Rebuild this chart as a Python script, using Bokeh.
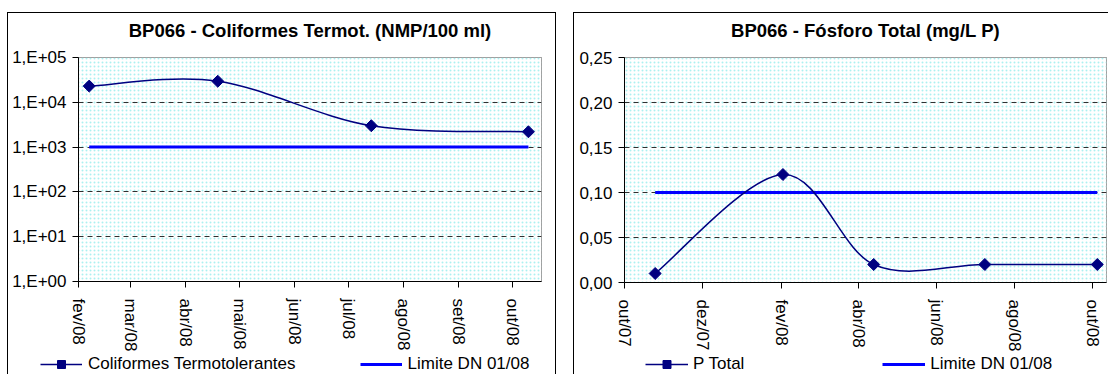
import numpy as np
import pandas as pd
from bokeh.plotting import figure
from bokeh.layouts import row, column
from bokeh.models import (Range1d, FixedTicker, CustomJSTickFormatter, BoxAnnotation,
                          Legend, LegendItem)
from bokeh.embed import file_html
from bokeh.resources import INLINE

# ---------------- data ----------------
colif_dates = ["2008-02-07", "2008-04-19", "2008-07-14", "2008-10-10"]
colif_values = [23000, 29500, 3000, 2200]
colif_limit = [1000, 1000, 1000, 1000]

ptotal_dates = ["2007-10-25", "2008-02-02", "2008-04-13", "2008-07-09", "2008-10-05"]
ptotal_values = [0.01, 0.12, 0.02, 0.02, 0.02]
ptotal_limit = [0.10, 0.10, 0.10, 0.10, 0.10]

month_names = ["jan", "fev", "mar", "abr", "mai", "jun", "jul", "ago", "set", "out", "nov", "dez"]
colif_xticks = ["2008-02-01", "2008-03-01", "2008-04-01", "2008-05-01", "2008-06-01",
                "2008-07-01", "2008-08-01", "2008-09-01", "2008-10-01"]
ptotal_xticks = ["2007-10-01", "2007-12-01", "2008-02-01", "2008-04-01", "2008-06-01",
                 "2008-08-01", "2008-10-01"]
colif_yticks = [1, 10, 100, 1000, 10000, 100000]
ptotal_yticks = [0.0, 0.05, 0.10, 0.15, 0.20, 0.25]

title_left = "BP066 - Coliformes Termot. (NMP/100 ml)"
title_right = "BP066 - Fósforo Total (mg/L P)"
label_series_left = "Coliformes Termotolerantes"
label_series_right = "P Total"
label_limit = "Limite DN 01/08"

FONT = "Liberation Sans"
NAVY = "#000080"
BLUE = "#0000FF"
H = 354      # chart figure height
LH = 20      # legend strip height


def ms(s):
    return pd.Timestamp(s).value / 1e6


def smooth(xs, ys, log=False):
    """Excel-like smoothed line: cubic Bezier control points (Catmull-Rom, 1/6)."""
    x = np.array(xs, dtype=float)
    y = np.log10(np.array(ys, dtype=float)) if log else np.array(ys, dtype=float)
    n = len(x)
    out = {k: [] for k in ["x0", "y0", "x1", "y1", "cx0", "cy0", "cx1", "cy1"]}
    for i in range(n - 1):
        a = i - 1 if i > 0 else i
        d = i + 2 if i + 2 < n else i + 1
        c0x = x[i] + (x[i + 1] - x[a]) / 6.0
        c0y = y[i] + (y[i + 1] - y[a]) / 6.0
        c1x = x[i + 1] - (x[d] - x[i]) / 6.0
        c1y = y[i + 1] - (y[d] - y[i]) / 6.0
        vals = [x[i], y[i], x[i + 1], y[i + 1], c0x, c0y, c1x, c1y]
        for k, v in zip(out.keys(), vals):
            out[k].append(v)
    if log:
        for k in ["y0", "y1", "cy0", "cy1"]:
            out[k] = [10 ** v for v in out[k]]
    return out


month_fmt = CustomJSTickFormatter(args=dict(names=month_names), code="""
    const d = new Date(tick);
    return names[d.getUTCMonth()] + "/" + String(d.getUTCFullYear()).slice(2);
""")


def box_css(left, right, top):
    g = "linear-gradient(#000,#000)"
    layers = [f"{g} {left}px {top}px / 1px 100% no-repeat"]
    if top > 0:
        layers.append(f"{g} {left}px {top}px / 100% 1px no-repeat")
    if right is not None:
        layers.append(f"{g} {right}px {top}px / 1px 100% no-repeat")
    return {"background": ", ".join(layers) + ", #ffffff"}


def style(p, yfmt):
    p.background_fill_color = "white"
    p.border_fill_alpha = 0
    p.outline_line_color = "#808080"
    p.outline_line_width = 1
    p.add_layout(BoxAnnotation(level="image", fill_color="white", fill_alpha=1.0,
                               hatch_pattern="dot", hatch_color="#ACF0F0",
                               hatch_scale=4, hatch_weight=1.0, line_color=None))
    p.xgrid.visible = False
    p.ygrid.grid_line_color = "#303030"
    p.ygrid.grid_line_dash = "5 4"
    p.ygrid.grid_line_width = 1
    for ax in (p.xaxis[0], p.yaxis[0]):
        ax.axis_line_color = "black"
        ax.major_tick_line_color = "black"
        ax.major_tick_in = 0
        ax.major_tick_out = 6
        ax.minor_tick_line_color = None
        ax.major_label_text_font = FONT
        ax.major_label_text_font_size = "17px"
        ax.major_label_text_color = "black"
    p.yaxis[0].major_label_standoff = 6
    p.xaxis[0].major_label_standoff = 11
    p.xaxis[0].major_label_orientation = "vertical"
    p.xaxis[0].formatter = month_fmt
    p.yaxis[0].formatter = yfmt
    p.title.text_font = FONT
    p.title.text_font_size = "18.5px"
    p.title.text_font_style = "bold"
    p.title.text_color = "black"
    p.title.align = "center"
    p.title.standoff = 33


def legend_strip(width, css, xs, ys, lims, series_label, x, spacing, gw, standoff):
    """A strip below the chart holding its legend (renderers lie outside its ranges)."""
    f = figure(width=width, height=LH, x_range=Range1d(0, 1), y_range=Range1d(0, 1),
               x_axis_location=None, y_axis_location=None, min_border=0,
               output_backend="svg", toolbar_location=None, styles=css,
               frame_align=False)
    f.border_fill_alpha = 0
    f.background_fill_alpha = 0
    f.outline_line_color = None
    f.grid.visible = False
    r_line = f.line(xs, ys, line_color=NAVY, line_width=1.5)
    r_pts = f.scatter(xs, ys, marker="square", angle=np.pi / 4, size=8.5,
                      fill_color=NAVY, line_color=NAVY)
    r_lim = f.line(xs, lims, line_color=BLUE, line_width=3)
    leg = Legend(items=[LegendItem(label=series_label, renderers=[r_line, r_pts]),
                        LegendItem(label=label_limit, renderers=[r_lim])],
                 orientation="horizontal", location=(x, 0), padding=0, margin=0,
                 spacing=spacing, glyph_width=gw, glyph_height=20, label_standoff=standoff,
                 border_line_color=None, background_fill_alpha=0,
                 label_text_font=FONT, label_text_font_size="17px", label_text_color="black")
    f.add_layout(leg)
    return f


# ---------------- left chart ----------------
p1 = figure(width=556, height=H, x_axis_type="datetime", y_axis_type="log",
            x_range=Range1d(ms("2008-02-01"), ms("2008-10-17 08:00")),
            y_range=Range1d(1, 1e5),
            output_backend="svg", toolbar_location=None,
            min_border_left=78, min_border_right=15, min_border_top=57,
            min_border_bottom=H - 283, frame_align=False,
            title=title_left, styles=box_css(7, 555, 12))
style(p1, CustomJSTickFormatter(code="""
    return "1,E+0" + Math.round(Math.log10(tick));
"""))
p1.title.offset = -28
p1.xaxis[0].ticker = FixedTicker(ticks=[ms(t) for t in colif_xticks])
p1.yaxis[0].ticker = FixedTicker(ticks=colif_yticks)

cx = [ms(d) for d in colif_dates]
p1.line(cx, colif_limit, line_color=BLUE, line_width=3)
p1.bezier(**smooth(cx, colif_values, log=True), line_color=NAVY, line_width=1.5)
p1.scatter(cx, colif_values, marker="square", angle=np.pi / 4, size=8.5,
           fill_color=NAVY, line_color=NAVY)

l1 = legend_strip(556, box_css(7, 555, 0), cx, colif_values, colif_limit,
                  label_series_left, 40, 64, 42, 6)

# ---------------- right chart ----------------
p2 = figure(width=552, height=H, x_axis_type="datetime",
            x_range=Range1d(ms("2007-10-01"), ms("2008-10-12 05:00")),
            y_range=Range1d(0, 0.25),
            output_backend="svg", toolbar_location=None,
            min_border_left=68, min_border_right=2, min_border_top=57,
            min_border_bottom=H - 283, frame_align=False,
            title=title_right, styles=box_css(17, None, 12))
style(p2, CustomJSTickFormatter(code="""
    return tick.toFixed(2).replace(".", ",");
"""))
p2.title.offset = -17
p2.xaxis[0].ticker = FixedTicker(ticks=[ms(t) for t in ptotal_xticks])
p2.yaxis[0].ticker = FixedTicker(ticks=ptotal_yticks)

px = [ms(d) for d in ptotal_dates]
p2.line(px, ptotal_limit, line_color=BLUE, line_width=3)
p2.bezier(**smooth(px, ptotal_values), line_color=NAVY, line_width=1.5)
p2.scatter(px, ptotal_values, marker="square", angle=np.pi / 4, size=8.5,
           fill_color=NAVY, line_color=NAVY)

l2 = legend_strip(552, box_css(17, None, 0), px, ptotal_values, ptotal_limit,
                  label_series_right, 89, 138, 43, 5)

layout = row(column(p1, l1), column(p2, l2))
open("out.html", "w").write(file_html(layout, INLINE))
